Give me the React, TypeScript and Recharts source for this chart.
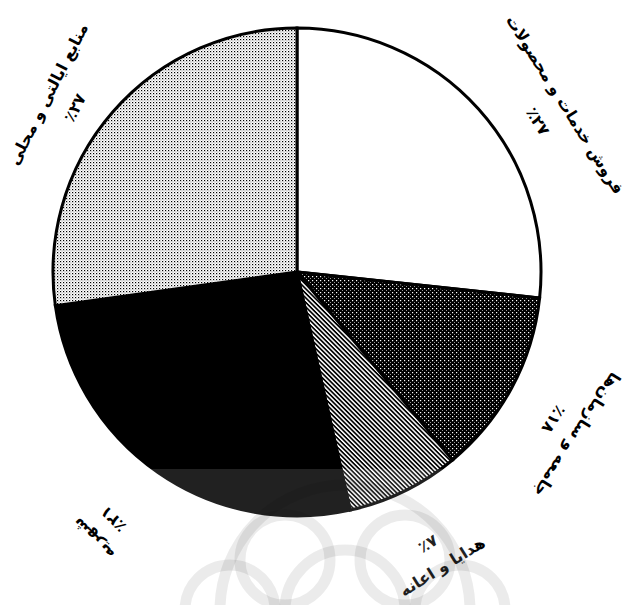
import { PieChart, Pie, Cell } from "recharts";

// funding sources, clockwise from 12 o'clock
const sources = [
  "فروش خدمات و محصولات",
  "جامعه و سازمان‌ها",
  "هدایا و اعانه",
  "شهریه",
  "منابع ایالتی و محلی",
];
// slice sizes as drawn in the picture
const shares = [26.7, 12.3, 7.5, 26.3, 27.2];
// percentages printed next to each slice
const shareLabels = ["٪۲۷", "٪۱۸", "٪۷", "٪۲۱", "٪۲۷"];

const fills = ["#ffffff", "url(#darkDots)", "url(#hatch)", "#000000", "url(#lightDots)"];

// where each label sits: polar angle (deg), distance from centre, rotation
const placement = [
  { angle: 32, r: 300, rot: 58, gap: 32, pctFirst: false },
  { angle: -30, r: 310, rot: 123, gap: 28, pctFirst: false },
  { angle: -64, r: 315, rot: -32, gap: 27, pctFirst: true },
  { angle: -127, r: 322, rot: 225, gap: 28, pctFirst: false },
  { angle: 144, r: 291, rot: -63, gap: 30, pctFirst: false },
];

const data = sources.map((name, i) => ({ name, value: shares[i], pct: shareLabels[i] }));

const renderLabel = (p: any) => {
  const pl = placement[p.index];
  const rad = (pl.angle * Math.PI) / 180;
  const x = p.cx + pl.r * Math.cos(rad);
  const y = p.cy - pl.r * Math.sin(rad);
  const row = data[p.index];
  const lines = pl.pctFirst ? [row.pct, row.name] : [row.name, row.pct];
  return (
    <g transform={`translate(${x},${y}) rotate(${pl.rot})`}>
      {lines.map((t, k) => (
        <text
          key={k}
          x={0}
          y={(k - 0.5) * pl.gap}
          textAnchor="middle"
          dominantBaseline="central"
          fontFamily="DejaVu Sans"
          fontWeight="bold"
          fontSize={16}
          fill="#000"
        >
          {t}
        </text>
      ))}
    </g>
  );
};

export default function App() {
  return (
    <div style={{ position: "absolute", left: 0, top: 0, width: 632, height: 605, background: "#fff" }}>
      <PieChart width={632} height={605} margin={{ top: 0, right: 0, bottom: 0, left: 0 }}>
        <defs>
          <pattern id="lightDots" width="3" height="3" patternUnits="userSpaceOnUse">
            <rect width="3" height="3" fill="#fff" />
            <rect x="0" y="0" width="1.2" height="1.2" fill="#000" />
            <rect x="1.5" y="1.5" width="1" height="1" fill="#777" />
          </pattern>
          <pattern id="darkDots" width="4" height="4" patternUnits="userSpaceOnUse">
            <rect width="4" height="4" fill="#000" />
            <rect x="0" y="0" width="1.2" height="1.2" fill="#fff" />
            <rect x="2" y="2" width="1" height="1" fill="#999" />
          </pattern>
          <pattern id="hatch" width="3.2" height="3.2" patternUnits="userSpaceOnUse" patternTransform="rotate(-45)">
            <rect width="3.2" height="3.2" fill="#000" />
            <rect width="1.5" height="3.2" fill="#fff" />
          </pattern>
        </defs>
        <Pie
          data={data}
          dataKey="value"
          nameKey="name"
          cx={297}
          cy={272}
          outerRadius={244}
          startAngle={90}
          endAngle={-270}
          stroke="#000"
          strokeWidth={3}
          label={renderLabel}
          labelLine={false}
          isAnimationActive={false}
        >
          {data.map((_, i) => (
            <Cell key={i} fill={fills[i]} stroke="#000" strokeWidth={3} />
          ))}
        </Pie>
      </PieChart>
      {/* faint watermark over the lower part of the page */}
      <svg
        width={632}
        height={605}
        style={{ position: "absolute", left: 0, top: 0, pointerEvents: "none" }}
      >
        <rect x={143} y={469} width={330} height={136} fill="#fff" opacity={0.13} />
        <g fill="none" stroke="#000" strokeOpacity={0.08} strokeWidth={11}>
          <circle cx={345} cy={610} r={60} />
          <circle cx={285} cy={560} r={45} />
          <circle cx={405} cy={560} r={45} />
          <circle cx={230} cy={610} r={45} />
          <circle cx={460} cy={610} r={45} />
          <circle cx={345} cy={610} r={125} />
        </g>
      </svg>
    </div>
  );
}
